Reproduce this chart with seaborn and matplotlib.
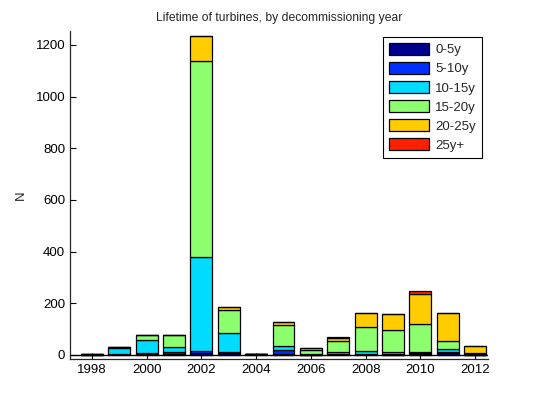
import pandas as pd
import matplotlib
matplotlib.use('Agg')
import matplotlib.pyplot as plt
import seaborn as sns
from matplotlib.patches import Patch

years = list(range(1998, 2013))
ages = ['0-5y', '5-10y', '10-15y', '15-20y', '20-25y', '25y+']
colors = ['#000090', '#0030FF', '#00DCFF', '#8CFF6E', '#FFCC00', '#FF2000']

# counts per lifetime class, one value per year
n_0_5 = [1, 2, 3, 3, 6, 8, 4, 3, 0, 2, 2, 1, 3, 8, 0]
n_5_10 = [0, 3, 4, 8, 10, 4, 1, 17, 1, 2, 2, 1, 3, 5, 0]
n_10_15 = [1, 22, 52, 18, 363, 73, 0, 15, 2, 8, 10, 10, 6, 9, 3]
n_15_20 = [1, 5, 18, 47, 758, 89, 0, 81, 17, 43, 94, 83, 108, 33, 5]
n_20_25 = [0, 0, 1, 2, 96, 10, 0, 10, 5, 9, 55, 65, 115, 106, 27]
n_25p = [0, 0, 0, 0, 0, 3, 0, 1, 0, 4, 1, 0, 12, 0, 0]

series = [n_0_5, n_5_10, n_10_15, n_15_20, n_20_25, n_25p]
rows = []
for age, vals in zip(ages, series):
    for y, v in zip(years, vals):
        rows.append({'year': y, 'age': age, 'N': v})
df = pd.DataFrame(rows)

sns.set_style('ticks')
plt.rcParams['font.family'] = ['Liberation Sans', 'DejaVu Sans']
plt.rcParams['xtick.direction'] = 'in'
plt.rcParams['ytick.direction'] = 'in'

fig = plt.figure(figsize=(5.4, 4.04), dpi=100)
ax = fig.add_axes([0.1296, 0.1106, 0.7741, 0.8134])

sns.histplot(data=df, x='year', weights='N', hue='age', hue_order=ages[::-1],
             multiple='stack', discrete=True, shrink=0.8,
             palette=dict(zip(ages, colors)), alpha=1,
             edgecolor='black', linewidth=0.9, legend=False, ax=ax)

ax.axhline(0, color='black', lw=1, zorder=5)
ax.set_xlim(1997.2, 2012.47)
ax.set_ylim(-17, 1255)
ax.set_xticks(range(1998, 2013, 2))
ax.set_yticks(range(0, 1201, 200))
ax.tick_params(labelsize=9.5, length=4, width=0.8, colors='black')
ax.set_xlabel('')
ax.set_ylabel('N', fontsize=9.5, labelpad=6)
ax.set_title('Lifetime of turbines, by decommissioning year', fontsize=8.7, pad=7)
for s in ['top', 'right']:
    ax.spines[s].set_visible(False)
for s in ['left', 'bottom']:
    ax.spines[s].set_linewidth(0.9)

handles = [Patch(facecolor=c, edgecolor='black', lw=0.9, label=a) for a, c in zip(ages, colors)]
leg = ax.legend(handles=handles, loc='upper right', bbox_to_anchor=(0.9856, 0.981),
                fontsize=9.5, frameon=True, fancybox=False, framealpha=1,
                handlelength=3.0, handleheight=1.0, labelspacing=0.43,
                handletextpad=0.5, borderpad=0.45, borderaxespad=0)
leg.get_frame().set_edgecolor('black')
leg.get_frame().set_linewidth(0.8)

fig.savefig('out.png', dpi=100)
